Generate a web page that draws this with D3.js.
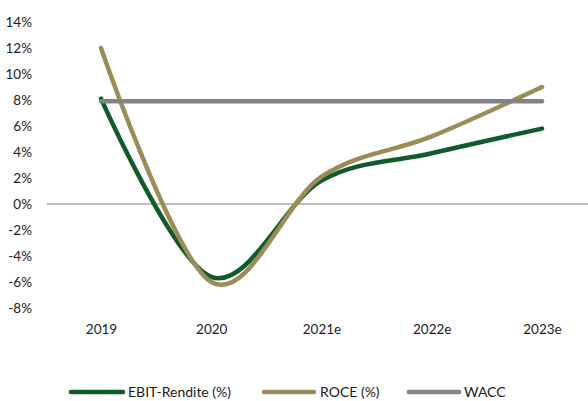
<!DOCTYPE html>
<html>
<head>
<meta charset="utf-8">
<script src="https://cdn.jsdelivr.net/npm/d3@7/dist/d3.min.js"></script>
<style>
  html, body { margin: 0; padding: 0; background: #fff; }
  svg { display: block; font-family: Lato, "Open Sans", sans-serif; }
</style>
</head>
<body>
<svg id="chart" width="588" height="401"></svg>
<script>
const categories = ["2019", "2020", "2021e", "2022e", "2023e"];
const ebit = [8.1, -5.6, 1.8, 3.9, 5.8];
const roce = [12.0, -6.0, 2.1, 5.2, 9.0];
const wacc = [7.9, 7.9, 7.9, 7.9, 7.9];
const yTicks = [14, 12, 10, 8, 6, 4, 2, 0, -2, -4, -6, -8];

const seriesNames = ["EBIT-Rendite (%)", "ROCE (%)", "WACC"];
const seriesColors = ["#115A2B", "#9A8C56", "#838383"];
const seriesData = [ebit, roce, wacc];

const svg = d3.select("#chart");

const x = d3.scalePoint().domain(categories).range([101, 542]);
const y = d3.scaleLinear().domain([-8, 14]).range([308, 22]);

// y axis labels
const yAxis = d3.axisLeft(y).tickValues(yTicks).tickFormat(d => d + "%").tickSize(0).tickPadding(0);
const gy = svg.append("g").attr("transform", "translate(32,0)").call(yAxis);
gy.select(".domain").remove();
gy.selectAll("text").attr("font-size", 13.5).attr("fill", "#1a1a1a").attr("font-family", "Lato, 'Open Sans', sans-serif");

// zero line
svg.append("line")
  .attr("x1", 47).attr("x2", 588)
  .attr("y1", y(0)).attr("y2", y(0))
  .attr("stroke", "#a6a6a6").attr("stroke-width", 1.5);

// x axis labels
const xAxis = d3.axisBottom(x).tickSize(0).tickPadding(0);
const gx = svg.append("g").attr("transform", "translate(0,324)").call(xAxis);
gx.select(".domain").remove();
gx.selectAll("text").attr("font-size", 13.5).attr("fill", "#1a1a1a").attr("font-family", "Lato, 'Open Sans', sans-serif");

const line = d3.line()
  .x((d, i) => x(categories[i]))
  .y(d => y(d))
  .curve(d3.curveCatmullRom.alpha(0));

seriesData.forEach((data, k) => {
  svg.append("path")
    .datum(data)
    .attr("d", line)
    .attr("fill", "none")
    .attr("stroke", seriesColors[k])
    .attr("stroke-width", 4.5)
    .attr("stroke-linecap", "round")
    .attr("stroke-linejoin", "round");
});

// legend
const legendItems = [
  { x1: 71, x2: 123, tx: 128 },
  { x1: 264, x2: 314, tx: 320 },
  { x1: 409, x2: 459, tx: 464 }
];
const legendY = 392;
const lg = svg.append("g");
legendItems.forEach((it, k) => {
  lg.append("line")
    .attr("x1", it.x1).attr("x2", it.x2)
    .attr("y1", legendY).attr("y2", legendY)
    .attr("stroke", seriesColors[k]).attr("stroke-width", 4.5)
    .attr("stroke-linecap", "round");
  lg.append("text")
    .attr("x", it.tx).attr("y", legendY)
    .attr("dy", "0.35em")
    .attr("font-size", 14)
    .attr("fill", "#1a1a1a")
    .text(seriesNames[k]);
});
</script>
</body>
</html>
